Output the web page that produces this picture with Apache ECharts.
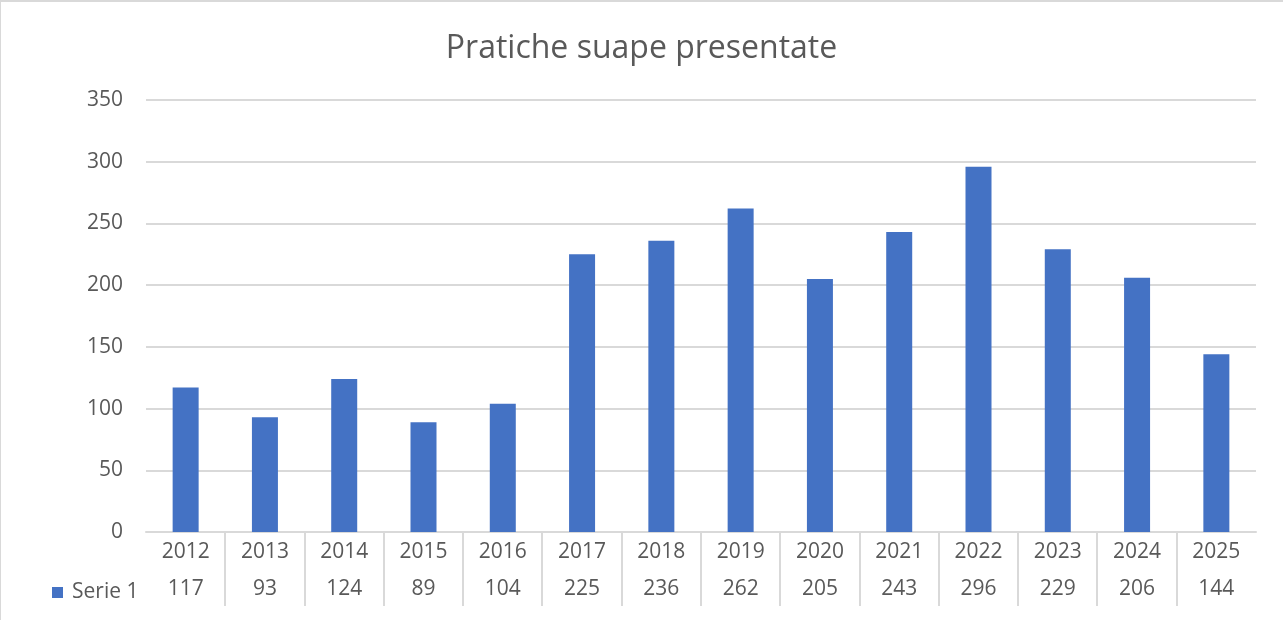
<!DOCTYPE html>
<html>
<head>
<meta charset="utf-8">
<script src="https://cdn.jsdelivr.net/npm/echarts@6/dist/echarts.min.js"></script>
<style>
  html, body { margin: 0; padding: 0; background: #fff; }
  #frame { position: absolute; left: 0; top: 0; width: 1283px; height: 620px; box-sizing: border-box;
           border-top: 2px solid #d9d9d9; border-left: 1px solid #d9d9d9; }
  #chart { position: absolute; left: 0; top: 0; width: 1283px; height: 620px; }
</style>
</head>
<body>
<div id="frame"></div>
<div id="chart"></div>
<script>
const titleText = 'Pratiche suape presentate';
const seriesName = 'Serie 1';
const categories = ['2012','2013','2014','2015','2016','2017','2018','2019','2020','2021','2022','2023','2024','2025'];
const values = [117, 93, 124, 89, 104, 225, 236, 262, 205, 243, 296, 229, 206, 144];
const yTicks = { min: 0, max: 350, interval: 50 };

const textColor = '#595959';
const lineColor = '#d9d9d9';
const fontFamily = '"Open Sans", "Noto Sans", sans-serif';

const separators = categories.slice(1).map((c, i) => [i + 1, 0]);

const chart = echarts.init(document.getElementById('chart'), null, { renderer: 'canvas' });
chart.setOption({
  animation: false,
  backgroundColor: 'transparent',
  textStyle: { fontFamily: fontFamily },
  title: {
    text: titleText,
    left: 'center',
    top: 28,
    textStyle: { color: textColor, fontSize: 32, fontWeight: 'normal', fontFamily: fontFamily }
  },
  legend: {
    data: [seriesName],
    left: 47,
    top: 577,
    icon: 'rect',
    itemWidth: 11,
    itemHeight: 11,
    itemGap: 8,
    textStyle: { color: textColor, fontSize: 21, fontFamily: fontFamily, padding: [0, 0, 0, 4] }
  },
  grid: { left: 146, right: 27, top: 100, bottom: 88, containLabel: false },
  xAxis: {
    type: 'category',
    data: categories,
    axisLine: { show: true, lineStyle: { color: lineColor, width: 2 } },
    axisTick: { show: false },
    axisLabel: {
      margin: 2,
      interval: 0,
      formatter: (value, index) => '{y|' + value + '}\n{v|' + values[index] + '}',
      rich: {
        y: { fontSize: 21, lineHeight: 37, color: textColor, fontFamily: fontFamily },
        v: { fontSize: 21, lineHeight: 37, color: textColor, fontFamily: fontFamily }
      }
    }
  },
  yAxis: {
    type: 'value',
    min: yTicks.min,
    max: yTicks.max,
    interval: yTicks.interval,
    axisLine: { show: false },
    axisTick: { show: false },
    splitLine: { lineStyle: { color: lineColor, width: 2 } },
    axisLabel: { color: textColor, fontSize: 21, margin: 23, fontFamily: fontFamily }
  },
  series: [
    {
      name: seriesName,
      type: 'bar',
      data: values,
      barWidth: 26,
      itemStyle: { color: '#4472C4' }
    },
    {
      name: 'separators',
      type: 'custom',
      silent: true,
      clip: false,
      encode: { x: 0, y: 1 },
      data: separators,
      renderItem: function (params, api) {
        const p = api.coord([api.value(0), 0]);
        const bw = api.size([1, 0])[0];
        const x = Math.round(p[0] - bw / 2);
        return {
          type: 'line',
          shape: { x1: x, y1: p[1] + 1, x2: x, y2: p[1] + 74 },
          style: { stroke: lineColor, lineWidth: 2 }
        };
      }
    }
  ]
});
</script>
</body>
</html>
